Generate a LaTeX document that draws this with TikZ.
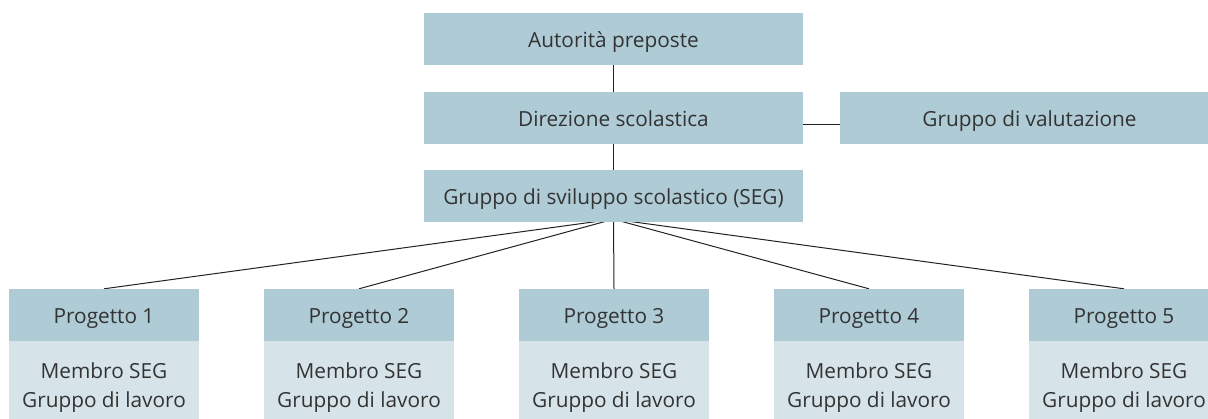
\documentclass[tikz,border=0pt]{standalone}
\usepackage{fontspec}
\setmainfont{Open Sans}
\usetikzlibrary{backgrounds}
\tikzset{
  box/.style={fill=boxdark,text=txt,inner sep=0pt,minimum height=52pt,text height=18pt,text depth=0pt,font=\fontsize{20.8}{25}\selectfont},
  mainbox/.style={box,minimum width=379pt},
  phead/.style={box,minimum width=190pt},
  pbody/.style={phead,fill=boxlight,minimum height=78pt,align=center,text height=54pt,font=\fontsize{20.8}{29}\selectfont},
  link/.style={draw=linegray,line width=1pt}
}
\definecolor{boxdark}{HTML}{AECBD6}
\definecolor{boxlight}{HTML}{D6E4EA}
\definecolor{txt}{HTML}{333333}
\definecolor{linegray}{HTML}{222222}

\begin{document}
\begin{tikzpicture}[x=1pt,y=-1pt]
\useasboundingbox (0,0) rectangle (1208,419);

\node[mainbox] (auth) at (613.5,39) {Autorità preposte};
\node[mainbox] (dir) at (613.5,118) {Direzione scolastica};
\node[mainbox] (seg) at (613.5,196) {Gruppo di sviluppo scolastico (SEG)};
\node[mainbox] (val) at (1029.5,118) {Gruppo di valutazione};

\draw[link] (auth) -- (dir);
\draw[link] (dir) -- (seg);
\draw[link] ([yshift=-7pt]dir.east) -- ([yshift=-7pt]val.west);

% progetti
\foreach \i/\x in {1/104,2/359,3/614,4/869,5/1124} {
  \node[phead] (p\i) at (\x,315) {Progetto \i};
  \node[pbody,anchor=north] (m\i) at (p\i.south) {Membro SEG\\Gruppo di lavoro};
  \begin{pgfonlayer}{background}
    \draw[link] ([yshift=3pt]seg.south) -- (p\i.north);
  \end{pgfonlayer}
}
\end{tikzpicture}
\end{document}
